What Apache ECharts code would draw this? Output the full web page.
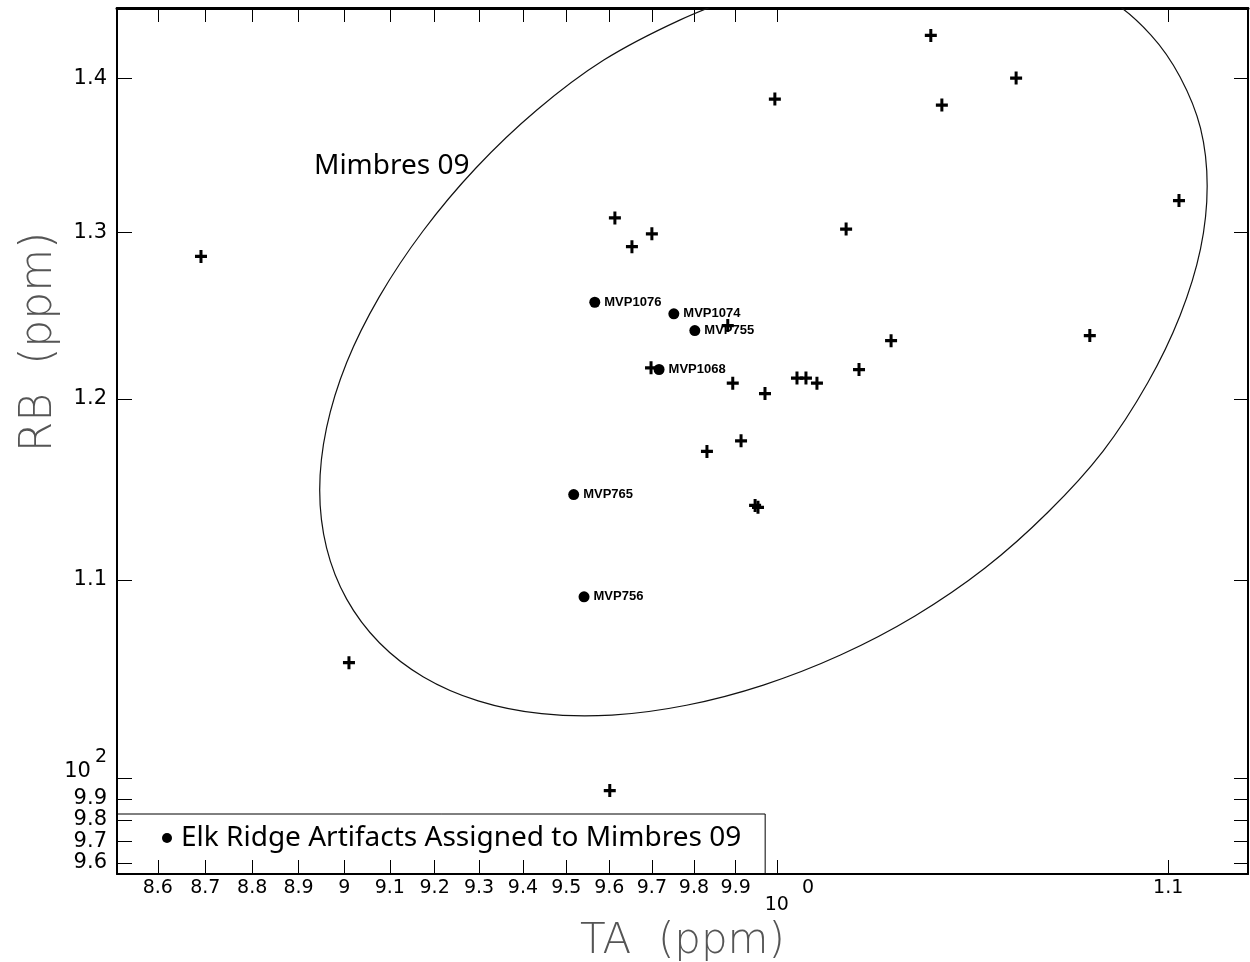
<!DOCTYPE html>
<html>
<head>
<meta charset="utf-8">
<script src="https://cdn.jsdelivr.net/npm/echarts@6/dist/echarts.min.js"></script>
<style>
    html, body { margin: 0; padding: 0; background: #fff; }
    #main { width: 1250px; height: 962px; }
</style>
</head>
<body>
<div id="main"></div>
<script>
    // axis ticks (log scales) and the text printed under them
    var taTicks = [0.86, 0.87, 0.88, 0.89, 0.9, 0.91, 0.92, 0.93, 0.94, 0.95, 0.96, 0.97, 0.98, 0.99, 1.0, 1.1];
    var taTickLabels = ['8.6', '8.7', '8.8', '8.9', '9', '9.1', '9.2', '9.3', '9.4', '9.5', '9.6', '9.7', '9.8', '9.9', '10^0', '1.1'];
    var rbTicks = [96, 97, 98, 99, 100, 110, 120, 130, 140];
    var rbTickLabels = ['9.6', '9.7', '9.8', '9.9', '10^2', '1.1', '1.2', '1.3', '1.4'];

    // source samples (+)
    var sourceTA = [0.8691, 0.9010, 0.9613, 0.9653, 0.9700, 0.9698, 0.9601, 0.9831, 0.9881, 0.9893, 0.9913, 0.9947, 0.9954,
        0.9971, 0.9995, 1.0049, 1.0071, 1.0098, 1.0170, 1.0202, 1.0282, 1.0382, 1.0410, 1.0600, 1.0792, 1.1029];
    var sourceRB = [128.5, 105.7, 130.9, 129.1, 129.9, 121.8, 99.4, 117.0, 124.3, 120.9, 117.6, 114.0, 113.9,
        120.3, 138.6, 121.2, 121.2, 120.9, 130.2, 121.7, 123.4, 142.9, 138.2, 140.0, 123.7, 132.0];

    // Elk Ridge artifacts
    var artifactIds = ['MVP1076', 'MVP1074', 'MVP755', 'MVP1068', 'MVP765', 'MVP756'];
    var artifactTA = [0.9566, 0.9752, 0.9802, 0.9717, 0.9517, 0.9541];
    var artifactRB = [125.7, 125.0, 124.0, 121.7, 114.6, 109.1];

    // Mimbres 09 confidence ellipse (runs past the top edge, clipped there)
    var ellipseTA = [0.9947, 0.9766, 0.9587, 0.9432, 0.9293, 0.9174, 0.9077, 0.9005, 0.8961, 0.8946,
        0.8961, 0.9005, 0.9077, 0.9175, 0.9298, 0.9443, 0.9606, 0.9782, 0.9967, 1.0156,
        1.0342, 1.0520, 1.0683, 1.0827, 1.0945, 1.1032, 1.1087, 1.1105, 1.1087, 1.1032,
        1.0954, 1.0845, 1.0684];
    var ellipseRB = [146.05, 143.96, 141.22, 137.87, 134.08, 130.08, 126.04, 122.11, 118.34, 114.85,
        111.70, 108.98, 106.72, 104.98, 103.78, 103.14, 103.07, 103.56, 104.57, 106.09,
        108.10, 110.62, 113.64, 117.02, 120.91, 124.90, 128.96, 132.92, 136.67, 140.08,
        142.93, 145.35, 147.10];

    var legendName = 'Elk Ridge Artifacts Assigned to Mimbres 09';

    var taRange = [0.8515, 1.1216];
    var rbRange = [95.49, 144.8];

    var pairs = function (xs, ys, names) {
        return xs.map(function (x, i) {
            var item = {value: [x, ys[i]]};
            if (names) {
                item.name = names[i];
            }
            return item;
        });
    };

    // '10^0' -> rich text with a raised exponent
    var tickFormatter = function (ticks, labels, prefix) {
        return function (value) {
            for (var i = 0; i < ticks.length; i++) {
                if (Math.abs(ticks[i] - value) < 1e-6 * ticks[i]) {
                    var parts = labels[i].split('^');
                    if (parts.length > 1) {
                        return prefix + '{b|' + parts[0] + '}{s|' + parts[1] + '}';
                    }
                    return labels[i];
                }
            }
            return '';
        };
    };

    var plus = 'path://M4.5,0H7.5V4.5H12V7.5H7.5V12H4.5V7.5H0V4.5H4.5Z';
    var tickFont = 'DejaVu Sans';

    var chart = echarts.init(document.getElementById('main'));

    chart.setOption({
        animation: false,
        backgroundColor: '#fff',
        grid: {
            left: 117,
            right: 2,
            top: 8,
            bottom: 88,
            containLabel: false,
            outerBoundsMode: 'none'
        },
        legend: {
            data: [legendName],
            left: 117,
            top: 814,
            icon: 'circle',
            itemWidth: 10,
            itemHeight: 10,
            padding: [10, 24, 22, 45],
            borderColor: '#000',
            borderWidth: 1,
            selectedMode: false,
            textStyle: {
                fontFamily: 'Noto Sans',
                fontSize: 28,
                color: '#000',
                padding: [0, 0, 0, 4]
            }
        },
        graphic: [{
            type: 'text',
            left: 314,
            top: 152,
            style: {
                text: 'Mimbres 09',
                font: '28px "Noto Sans"',
                fill: '#000'
            }
        }],
        xAxis: [{
            type: 'log',
            logBase: 10,
            min: taRange[0],
            max: taRange[1],
            position: 'bottom',
            name: 'TA  (ppm)',
            nameLocation: 'middle',
            nameGap: 47,
            nameMoveOverlap: false,
            nameTextStyle: {
                fontFamily: tickFont,
                fontSize: 42,
                fontWeight: 200,
                color: '#555'
            },
            axisLine: {lineStyle: {color: '#000', width: 2}},
            axisTick: {
                inside: true,
                length: 14,
                customValues: taTicks,
                lineStyle: {color: '#000', width: 1}
            },
            axisLabel: {
                customValues: taTicks,
                margin: 5,
                fontFamily: tickFont,
                fontSize: 19,
                color: '#000',
                formatter: tickFormatter(taTicks, taTickLabels, '{sp| }'),
                rich: {
                    sp: {width: 25, fontSize: 19},
                    b: {fontFamily: tickFont, fontSize: 19, color: '#000', verticalAlign: 'top', padding: [17, 0, 0, 0]},
                    s: {fontFamily: tickFont, fontSize: 19, color: '#000', verticalAlign: 'top', padding: [0, 0, 0, 13]}
                }
            },
            splitLine: {show: false}
        }, {
            type: 'log',
            logBase: 10,
            min: taRange[0],
            max: taRange[1],
            position: 'top',
            axisLine: {lineStyle: {color: '#000', width: 3}},
            axisTick: {
                inside: true,
                length: 14,
                customValues: taTicks,
                lineStyle: {color: '#000', width: 1}
            },
            axisLabel: {show: false},
            splitLine: {show: false}
        }],
        yAxis: [{
            type: 'log',
            logBase: 10,
            min: rbRange[0],
            max: rbRange[1],
            position: 'left',
            name: 'RB  (ppm)',
            nameLocation: 'middle',
            nameGap: 55,
            nameMoveOverlap: false,
            nameTextStyle: {
                fontFamily: tickFont,
                fontSize: 44,
                fontWeight: 200,
                color: '#555',
                padding: [0, 0, 0, 198]
            },
            axisLine: {lineStyle: {color: '#000', width: 2}},
            axisTick: {
                inside: true,
                length: 15,
                customValues: rbTicks,
                lineStyle: {color: '#000', width: 1}
            },
            axisLabel: {
                customValues: rbTicks,
                margin: 10,
                fontFamily: tickFont,
                fontSize: 21,
                color: '#000',
                formatter: tickFormatter(rbTicks, rbTickLabels, ''),
                rich: {
                    b: {fontFamily: tickFont, fontSize: 21, color: '#000', verticalAlign: 'top', lineHeight: 60, padding: [13, 0, 0, 0]},
                    s: {fontFamily: tickFont, fontSize: 19, color: '#000', verticalAlign: 'top', padding: [0, 0, 0, 4]}
                }
            },
            splitLine: {show: false}
        }, {
            type: 'log',
            logBase: 10,
            min: rbRange[0],
            max: rbRange[1],
            position: 'right',
            axisLine: {lineStyle: {color: '#000', width: 2}},
            axisTick: {
                inside: true,
                length: 14,
                customValues: rbTicks,
                lineStyle: {color: '#000', width: 1}
            },
            axisLabel: {show: false},
            splitLine: {show: false}
        }],
        series: [{
            // ellipse outline: one smooth polyline through the read points
            name: 'Mimbres 09',
            type: 'custom',
            coordinateSystem: 'cartesian2d',
            clip: true,
            silent: true,
            data: pairs(ellipseTA, ellipseRB),
            renderItem: function (params, api) {
                if (params.dataIndex !== 0) {
                    return null;
                }
                var points = ellipseTA.map(function (ta, i) {
                    return api.coord([ta, ellipseRB[i]]);
                });
                return {
                    type: 'polyline',
                    shape: {points: points, smooth: 0.33},
                    style: {stroke: '#111', lineWidth: 1.2, fill: null}
                };
            }
        }, {
            name: 'Mimbres 09 source samples',
            type: 'scatter',
            symbol: plus,
            symbolSize: [12, 13],
            itemStyle: {color: '#000', opacity: 1},
            data: pairs(sourceTA, sourceRB)
        }, {
            name: legendName,
            type: 'scatter',
            symbol: 'circle',
            symbolSize: 11,
            itemStyle: {color: '#000', opacity: 1},
            label: {
                show: true,
                position: 'right',
                distance: 4,
                formatter: '{b}',
                fontFamily: 'Liberation Sans',
                fontSize: 13,
                fontWeight: 'bold',
                color: '#000'
            },
            data: pairs(artifactTA, artifactRB, artifactIds)
        }]
    });
</script>
</body>
</html>
